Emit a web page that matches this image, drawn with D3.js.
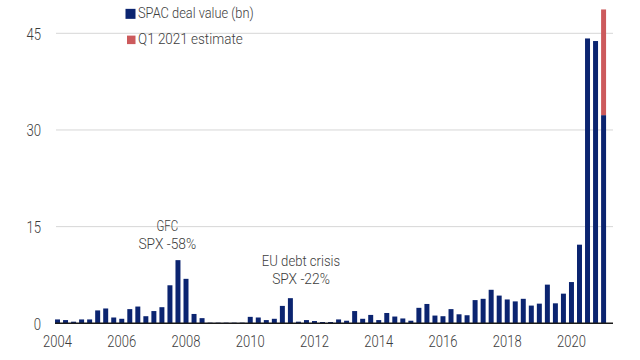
<!DOCTYPE html>
<html>
<head>
<meta charset="utf-8">
<script src="https://cdn.jsdelivr.net/npm/d3@7"></script>
<style>
  html, body { margin: 0; padding: 0; background: #fff; }
  svg { display: block; }
  text { font-family: Roboto, "Liberation Sans", sans-serif; font-weight: 300; fill: #3c3c3c; }
</style>
</head>
<body>
<svg id="chart" width="640" height="360"></svg>
<script>
// Quarterly SPAC deal value (bn), 2004 Q1 .. 2021 Q1
const quarters = d3.range(2004, 2022).flatMap(y => (y < 2021 ? [1, 2, 3, 4] : [1]).map(q => y + " Q" + q));
const dealValue = [
  0.6, 0.5, 0.25, 0.6,   // 2004
  0.6, 2.0, 2.3, 0.9,    // 2005
  0.7, 2.2, 2.6, 1.1,    // 2006
  1.9, 2.5, 5.9, 9.8,    // 2007
  6.9, 1.45, 0.8, 0.1,   // 2008
  0.1, 0.1, 0.1, 0.1,    // 2009
  1.0, 0.9, 0.5, 0.7,    // 2010
  2.7, 3.9, 0.25, 0.5,   // 2011
  0.35, 0.2, 0.2, 0.6,   // 2012
  0.4, 1.9, 0.7, 1.3,    // 2013
  0.5, 1.6, 1.05, 0.75,  // 2014
  0.4, 2.4, 3.0, 1.2,    // 2015
  1.1, 2.2, 1.4, 1.25,   // 2016
  3.6, 3.8, 5.2, 4.3,    // 2017
  3.7, 3.4, 3.8, 2.75,   // 2018
  3.05, 6.0, 3.1, 4.6,   // 2019
  6.4, 12.2, 44.2, 43.8, // 2020
  32.3                   // 2021 Q1
];
// Q1 2021 estimate (extra on top of the reported value)
const estimateExtra = [{ quarter: "2021 Q1", value: 16.4 }];
const yTicks = [0, 15, 30, 45];
const xTickQuarters = ["2004 Q1","2006 Q1","2008 Q1","2010 Q1","2012 Q1","2014 Q1","2016 Q1","2018 Q1","2020 Q1"];
const seriesNames = ["SPAC deal value (bn)", "Q1 2021 estimate"];
const colors = ["#0b2470", "#cc5a5c"];
const annotations = [
  { quarter: "2007 Q4", lines: ["GFC", "SPX -58%"] },
  { quarter: "2011 Q2", lines: ["EU debt crisis", "SPX -22%"] }
];

const svg = d3.select("#chart");
const x = d3.scaleBand().domain(quarters).range([53.5, 607.6]).paddingInner(0.38).paddingOuter(0.19);
const y = d3.scaleLinear().domain([0, 45]).range([323.3, 33.3]);

// condensed look: squeeze text to the reference's widths
const charW = 7.2;
function squeeze(sel, factor) {
  sel.each(function () {
    const t = d3.select(this);
    const n = this.textContent.length;
    t.attr("textLength", n * factor).attr("lengthAdjust", "spacingAndGlyphs");
  });
}

// gridlines
svg.append("g").selectAll("line").data(yTicks.filter(d => d > 0)).join("line")
  .attr("x1", 56).attr("x2", 613)
  .attr("y1", d => y(d)).attr("y2", d => y(d))
  .attr("stroke", "#d6d6d6").attr("stroke-width", 1);

// y axis labels
const yAxis = d3.axisLeft(y).tickValues(yTicks).tickSize(0).tickPadding(0).tickFormat(d3.format("d"));
const gy = svg.append("g").attr("transform", "translate(41,0)").call(yAxis);
gy.select(".domain").remove();
gy.selectAll("text").style("font-size", "16px").attr("dy", "0.36em").style("font-family", null).attr("fill", "#3c3c3c")
  .call(squeeze, 7.3);

// bars
const data = quarters.map((q, i) => ({ quarter: q, value: dealValue[i] }));
svg.append("g").selectAll("rect").data(data).join("rect")
  .attr("x", d => x(d.quarter)).attr("width", x.bandwidth())
  .attr("y", d => y(d.value)).attr("height", d => y(0) - y(d.value))
  .attr("fill", colors[0]);

// estimate stacked on top
const base = q => dealValue[quarters.indexOf(q)];
svg.append("g").selectAll("rect").data(estimateExtra).join("rect")
  .attr("x", d => x(d.quarter)).attr("width", x.bandwidth())
  .attr("y", d => y(base(d.quarter) + d.value))
  .attr("height", d => y(base(d.quarter)) - y(base(d.quarter) + d.value))
  .attr("fill", colors[1]);

// baseline
svg.append("line").attr("x1", 55).attr("x2", 613).attr("y1", y(0)).attr("y2", y(0))
  .attr("stroke", "#1a1a1a").attr("stroke-width", 1.6);

// x axis labels
const xAxis = d3.axisBottom(x).tickValues(xTickQuarters).tickSize(0).tickPadding(0).tickFormat(d => d.slice(0, 4));
const gx = svg.append("g").attr("transform", `translate(0,${y(0)})`).call(xAxis);
gx.select(".domain").remove();
gx.selectAll("text").style("font-size", "16px").attr("dy", null).attr("y", 23.5).style("font-family", null).attr("fill", "#3c3c3c")
  .call(squeeze, 7.2);

// annotations
const annoPos = [{ cx: 167.3, top: 230.7, widths: [21.7, 57.7] }, { cx: 301, top: 266, widths: [78.3, 57.7] }];
annotations.forEach((a, k) => {
  const p = annoPos[k];
  a.lines.forEach((line, i) => {
    svg.append("text").attr("text-anchor", "middle").attr("x", p.cx).attr("y", p.top + i * 17.8)
      .style("font-size", "15.5px").text(line)
      .attr("textLength", p.widths[i]).attr("lengthAdjust", "spacingAndGlyphs");
  });
});

// legend
const legend = svg.append("g");
const legendRows = [
  { name: seriesNames[0], color: colors[0], y: 18.3, size: 10, w: 115.7 },
  { name: seriesNames[1], color: colors[1], y: 44.3, size: 8.5, w: 104.7 }
];
legendRows.forEach(r => {
  legend.append("rect").attr("x", 135.5 - r.size).attr("y", r.y - 9 - (r.size - 8.5) / 2 + 0.3)
    .attr("width", r.size).attr("height", r.size).attr("fill", r.color);
  legend.append("text").attr("x", 138).attr("y", r.y).style("font-size", "15.5px").text(r.name)
    .attr("textLength", r.w).attr("lengthAdjust", "spacingAndGlyphs");
});
</script>
</body>
</html>
